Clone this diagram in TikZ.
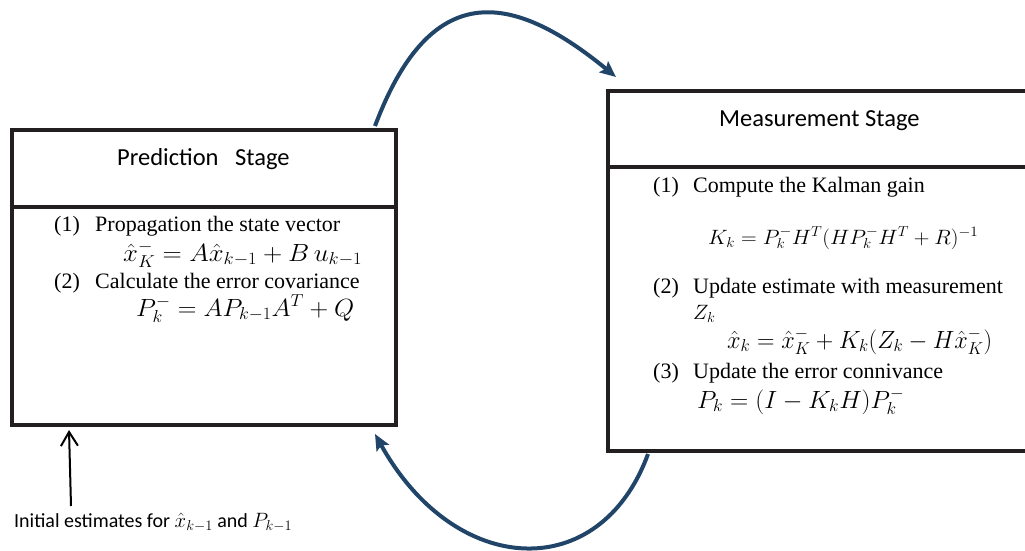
\documentclass[tikz,border=0pt]{standalone}
\usepackage{fontspec}
\setmainfont{Liberation Serif}
\newfontfamily\headfont{Carlito}
\usepackage{graphicx}
\usetikzlibrary{arrows.meta,calc}
\definecolor{flowblue}{RGB}{33,69,104}
\definecolor{boxline}{RGB}{35,31,32}

% stretch a formula horizontally to a given width, keeping its height
\newcommand{\fitwidth}[2]{\resizebox{#1}{\height}{$#2$}}

\begin{document}
\begin{tikzpicture}[x=1pt,y=-1pt,
  stagebox/.style={draw=boxline, line width=4pt, inner sep=0pt},
  divider/.style={draw=boxline, line width=4pt},
  body/.style={anchor=base west, inner sep=0pt, font=\fontsize{22}{26}\selectfont},
  heading/.style={anchor=base west, inner sep=0pt, font=\headfont\fontsize{24.5}{29}\selectfont},
  eqn/.style={anchor=base west, inner sep=0pt, font=\fontsize{#1}{26}\selectfont},
  eqn/.default=21,
  loop/.style={draw=flowblue, line width=4pt, -{Stealth[length=16pt,width=14pt,inset=3pt]}},
]
\useasboundingbox (0,0) rectangle (1025,550);
\fill[white] (0,0) rectangle (1025,550);

% the two stage boxes and their title dividers
\node[stagebox, minimum width=384.5pt, minimum height=294.5pt] (pred) at (203.75,277.25) {};
\node[stagebox, minimum width=437pt, minimum height=359.5pt] (meas) at (826.5,270.75) {};
\draw[divider] ($(pred.north west)+(0,78.5)$) -- ($(pred.north east)+(0,78.5)$);
\draw[divider] ($(meas.north west)+(0,77.5)$) -- ($(meas.north east)+(0,77.5)$);

% prediction stage
\node[heading] (predTitle) at (117,165) {Prediction\ \ \ Stage};
\node[body] (p1n) at (54,231) {(1)};
\node[body] (p1t) at (95,231) {Propagation the state vector};
\node[eqn=24.5] (p1e) at (123,261) {\fitwidth{239pt}{\hat{x}_K^{-} = A\hat{x}_{k-1} + B\,u_{k-1}}};
\node[body] (p2n) at (54,288) {(2)};
\node[body] (p2t) at (95,288) {Calculate the error covariance};
\node[eqn=26] (p2e) at (136,316) {\fitwidth{218pt}{P_k^{-} = AP_{k-1}A^T + Q}};

% measurement stage
\node[heading] (measTitle) at (719,126) {Measurement Stage};
\node[body] (m1n) at (653,192) {(1)};
\node[body] (m1t) at (693,192) {Compute the Kalman gain};
\node[eqn=20.5] (m1e) at (708,244) {\fitwidth{270pt}{K_k = P_k^{-}H^T(HP_k^{-}H^T + R)^{-1}}};
\node[body] (m2n) at (653,293) {(2)};
\node[body] (m2t) at (693,293) {Update estimate with measurement};
\node[eqn=22] (m2z) at (693,319) {$Z_k$};
\node[eqn=23] (m2e) at (727,348) {\fitwidth{265pt}{\hat{x}_k = \hat{x}_K^{-} + K_k(Z_k - H\hat{x}_K^{-})}};
\node[body] (m3n) at (653,378) {(3)};
\node[body] (m3t) at (693,378) {Update the error connivance};
\node[eqn=27] (m3e) at (697,408) {\fitwidth{207pt}{P_k = (I - K_kH)P_k^{-}}};

% initial estimates feeding the prediction stage
\node[anchor=base west, inner sep=0pt, font=\headfont\fontsize{20}{24}\selectfont] (init) at (14,527)
  {Initial estimates for $\hat{x}_{k-1}$ and $P_{k-1}$};
\coordinate (initTail) at (71,506);
\draw[draw=black, line width=2pt, -{Straight Barb[length=14pt,width=17pt]}]
  (initTail) -- ($(pred.south west)+(59.5,3.5)$);

% the predict / update loop
\draw[loop] ($(pred.north east)+(-23,-2)$) .. controls (430,-20) and (510,-10) .. ($(meas.north west)+(10,-12)$);
\draw[loop] ($(meas.south west)+(42,1.5)$) .. controls (600,585) and (455,578) .. ($(pred.south east)+(-23,7.5)$);
\end{tikzpicture}
\end{document}
